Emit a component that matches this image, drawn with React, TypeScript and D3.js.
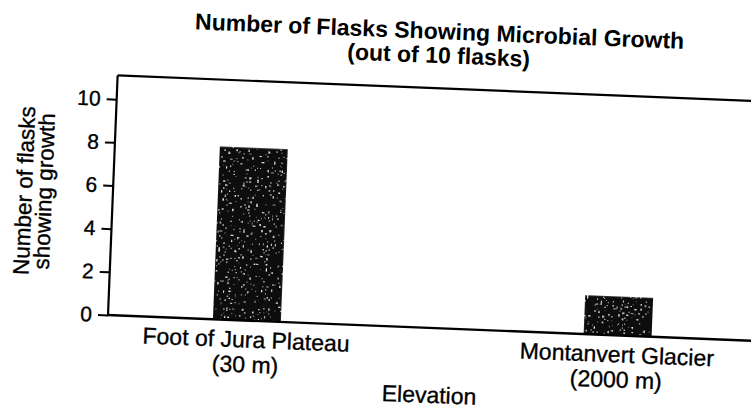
import React, { useEffect, useRef } from 'react';
import * as d3 from 'd3';

const width = 751;
const height = 412;

const categories = ['Foot of Jura Plateau', 'Montanvert Glacier'];
const elevations = ['(30 m)', '(2000 m)'];
const flasksWithGrowth = [8, 1.8];
const yTicks = [0, 2, 4, 6, 8, 10];

const titleLines = ['Number of Flasks Showing Microbial Growth', '(out of 10 flasks)'];
const yLabelLines = ['Number of flasks', 'showing growth'];
const xLabel = 'Elevation';

// the scanned page is tilted a little clockwise
const tilt = 2.3;
const font = "'Liberation Sans', Arial, Helvetica, sans-serif";

const margin = { left: 108, bottom: 315, top: 99, right: 757 };

const App = () => {
  const svgRef = useRef(null);

  useEffect(() => {
    const svg = d3.select(svgRef.current);
    svg.selectAll('*').remove();

    const filter = svg.append('defs').append('filter')
      .attr('id', 'speckle')
      .attr('x', 0).attr('y', 0).attr('width', 1).attr('height', 1);
    filter.append('feTurbulence')
      .attr('type', 'fractalNoise')
      .attr('baseFrequency', 0.5)
      .attr('numOctaves', 2)
      .attr('seed', 7)
      .attr('result', 'noise');
    filter.append('feColorMatrix')
      .attr('in', 'noise')
      .attr('type', 'matrix')
      .attr('values', '0 0 0 0 1  0 0 0 0 1  0 0 0 0 1  16 0 0 0 -11')
      .attr('result', 'white');
    filter.append('feComposite')
      .attr('in', 'white').attr('in2', 'SourceGraphic')
      .attr('operator', 'in').attr('result', 'spk');
    const merge = filter.append('feMerge');
    merge.append('feMergeNode').attr('in', 'SourceGraphic');
    merge.append('feMergeNode').attr('in', 'spk');

    const g = svg.append('g')
      .attr('transform', `rotate(${tilt}, ${margin.left}, ${margin.bottom})`)
      .style('font-family', font)
      .attr('fill', '#000');

    const x = d3.scaleBand()
      .domain(categories)
      .range([margin.left, margin.right])
      .paddingInner(0.817)
      .paddingOuter(0.283);

    const y = d3.scaleLinear()
      .domain([0, 10])
      .range([margin.bottom, margin.top]);

    const frameTop = y(11.1);

    // title
    g.selectAll('.title')
      .data(titleLines)
      .join('text')
      .attr('class', 'title')
      .attr('x', 428)
      .attr('y', (d, i) => 26 + i * 24)
      .attr('text-anchor', 'middle')
      .style('font-size', '23px')
      .style('font-weight', 'bold')
      .text(d => d);

    // bars
    g.selectAll('.bar')
      .data(categories)
      .join('rect')
      .attr('class', 'bar')
      .attr('x', d => x(d))
      .attr('y', (d, i) => y(flasksWithGrowth[i]))
      .attr('width', x.bandwidth())
      .attr('height', (d, i) => y(0) - y(flasksWithGrowth[i]))
      .attr('fill', '#0a0a0a')
      .attr('filter', 'url(#speckle)');

    // frame: top line, left axis, baseline
    g.append('line')
      .attr('x1', margin.left).attr('x2', width + 20)
      .attr('y1', frameTop).attr('y2', frameTop)
      .attr('stroke', '#000').attr('stroke-width', 2.2);
    g.append('line')
      .attr('x1', margin.left).attr('x2', margin.left)
      .attr('y1', frameTop).attr('y2', y(0))
      .attr('stroke', '#000').attr('stroke-width', 2.2);
    g.append('line')
      .attr('x1', margin.left - 1).attr('x2', width + 20)
      .attr('y1', y(0)).attr('y2', y(0))
      .attr('stroke', '#000').attr('stroke-width', 2.4);

    const yAxis = g.append('g')
      .attr('transform', `translate(${margin.left},0)`)
      .call(d3.axisLeft(y).tickValues(yTicks).tickSize(10).tickPadding(6));
    yAxis.select('.domain').remove();
    yAxis.selectAll('.tick line').attr('stroke', '#000').attr('stroke-width', 2);
    yAxis.selectAll('.tick text')
      .attr('fill', '#000')
      .attr('stroke', '#000')
      .attr('stroke-width', 0.35)
      .style('font-family', font)
      .style('font-size', '21px');

    // category labels
    const cat = g.selectAll('.cat')
      .data(categories)
      .join('text')
      .attr('class', 'cat')
      .attr('text-anchor', 'middle')
      .attr('stroke', '#000')
      .attr('stroke-width', 0.35)
      .style('font-size', '23px');
    cat.append('tspan')
      .attr('x', d => x(d) + x.bandwidth() / 2)
      .attr('y', y(0) + 27)
      .text(d => d);
    cat.append('tspan')
      .attr('x', d => x(d) + x.bandwidth() / 2)
      .attr('y', y(0) + 52)
      .text((d, i) => elevations[i]);

    g.append('text')
      .attr('x', 432)
      .attr('y', 390)
      .attr('text-anchor', 'middle')
      .attr('stroke', '#000')
      .attr('stroke-width', 0.35)
      .style('font-size', '23px')
      .text(xLabel);

    g.selectAll('.ylab')
      .data(yLabelLines)
      .join('text')
      .attr('class', 'ylab')
      .attr('transform', (d, i) => `translate(${27 + i * 20},194) rotate(-90)`)
      .attr('text-anchor', 'middle')
      .attr('stroke', '#000')
      .attr('stroke-width', 0.35)
      .style('font-size', '22.5px')
      .text(d => d);
  }, []);

  return (
    <svg
      ref={svgRef}
      width={width}
      height={height}
      style={{ position: 'absolute', left: 0, top: 0, background: '#fff' }}
    ></svg>
  );
};

export default App;
